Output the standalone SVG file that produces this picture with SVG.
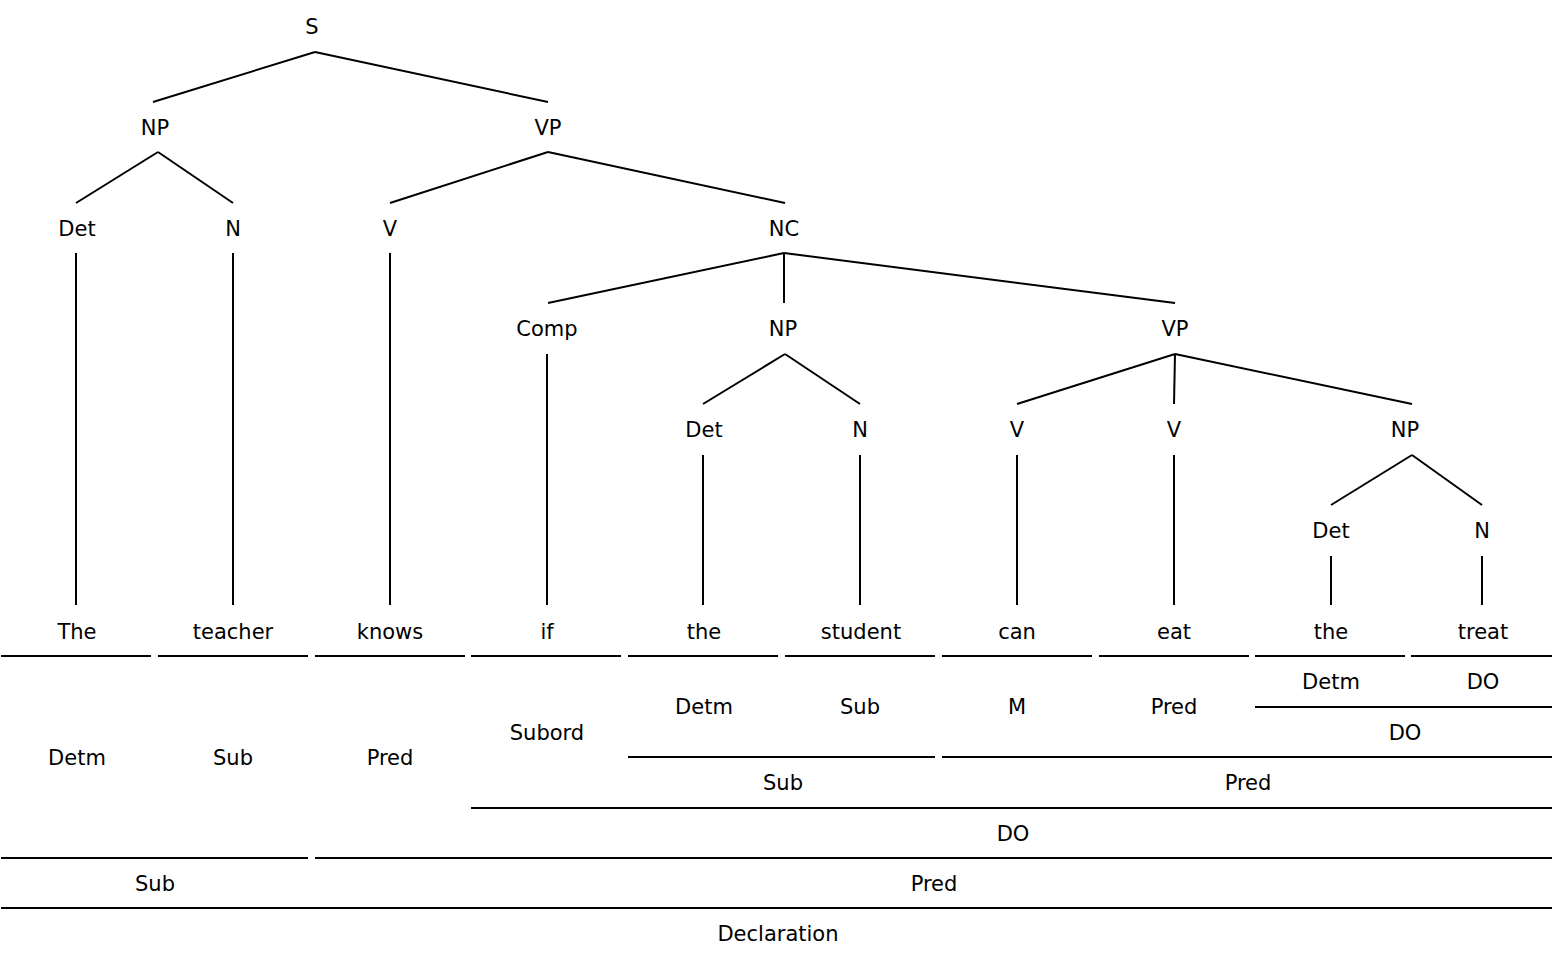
<svg xmlns="http://www.w3.org/2000/svg" width="1554" height="960" viewBox="0 0 1554 960">
<style>
text{font-family:"DejaVu Sans",Verdana,sans-serif;font-size:21px;text-anchor:middle;fill:#000}
line{stroke:#000;stroke-width:2}
</style>
<rect width="1554" height="960" fill="#fff"/>
<g id="connectors">
<line x1="315" y1="52" x2="153" y2="102"/><line x1="315" y1="52" x2="548" y2="102"/>
<line x1="158" y1="152" x2="76" y2="203"/><line x1="158" y1="152" x2="233" y2="203"/>
<line x1="548" y1="152" x2="390" y2="203"/><line x1="548" y1="152" x2="785" y2="203"/>
<line x1="76" y1="253" x2="76" y2="605"/><line x1="233" y1="253" x2="233" y2="605"/><line x1="390" y1="253" x2="390" y2="605"/>
<line x1="784" y1="253" x2="548" y2="303"/><line x1="784" y1="253" x2="784" y2="303"/><line x1="784" y1="253" x2="1175" y2="303"/>
<line x1="547" y1="354" x2="547" y2="605"/>
<line x1="785" y1="354" x2="703" y2="404"/><line x1="785" y1="354" x2="860" y2="404"/>
<line x1="1175" y1="354" x2="1017" y2="404"/><line x1="1175" y1="354" x2="1174" y2="404"/><line x1="1175" y1="354" x2="1412" y2="404"/>
<line x1="703" y1="455" x2="703" y2="605"/><line x1="860" y1="455" x2="860" y2="605"/><line x1="1017" y1="455" x2="1017" y2="605"/><line x1="1174" y1="455" x2="1174" y2="605"/>
<line x1="1412" y1="455" x2="1331" y2="505"/><line x1="1412" y1="455" x2="1482" y2="505"/>
<line x1="1331" y1="556" x2="1331" y2="605"/><line x1="1482" y1="556" x2="1482" y2="605"/>
</g>
<g id="tree">
<text x="312" y="34">S</text>
<text x="155" y="135">NP</text><text x="548" y="135">VP</text>
<text x="77" y="236">Det</text><text x="233" y="236">N</text><text x="390" y="236">V</text><text x="784" y="236">NC</text>
<text x="547" y="336">Comp</text><text x="783" y="336">NP</text><text x="1175" y="336">VP</text>
<text x="704" y="437">Det</text><text x="860" y="437">N</text><text x="1017" y="437">V</text><text x="1174" y="437">V</text><text x="1405" y="437">NP</text>
<text x="1331" y="538">Det</text><text x="1482" y="538">N</text>
</g>
<g id="words">
<text x="77" y="639">The</text><text x="233" y="639">teacher</text><text x="390" y="639">knows</text><text x="547" y="639">if</text><text x="704" y="639">the</text><text x="861" y="639">student</text><text x="1017" y="639">can</text><text x="1174" y="639">eat</text><text x="1331" y="639">the</text><text x="1483" y="639">treat</text>
</g>
<g id="functions">
<line x1="1" y1="656" x2="151" y2="656"/><line x1="158" y1="656" x2="308" y2="656"/><line x1="315" y1="656" x2="465" y2="656"/><line x1="471" y1="656" x2="621" y2="656"/><line x1="628" y1="656" x2="778" y2="656"/><line x1="785" y1="656" x2="935" y2="656"/><line x1="942" y1="656" x2="1092" y2="656"/><line x1="1099" y1="656" x2="1249" y2="656"/><line x1="1255" y1="656" x2="1405" y2="656"/><line x1="1411" y1="656" x2="1552" y2="656"/>
<text x="1331" y="689">Detm</text><text x="1483" y="689">DO</text>
<line x1="1255" y1="707" x2="1552" y2="707"/>
<text x="704" y="714">Detm</text><text x="860" y="714">Sub</text><text x="1017" y="714">M</text><text x="1174" y="714">Pred</text>
<text x="547" y="740">Subord</text><text x="1405" y="740">DO</text>
<text x="77" y="765">Detm</text><text x="233" y="765">Sub</text><text x="390" y="765">Pred</text>
<line x1="628" y1="757" x2="935" y2="757"/><line x1="942" y1="757" x2="1552" y2="757"/>
<text x="783" y="790">Sub</text><text x="1248" y="790">Pred</text>
<line x1="471" y1="808" x2="1552" y2="808"/>
<text x="1013" y="841">DO</text>
<line x1="1" y1="858" x2="308" y2="858"/><line x1="315" y1="858" x2="1552" y2="858"/>
<text x="155" y="891">Sub</text><text x="934" y="891">Pred</text>
<line x1="1" y1="908" x2="1552" y2="908"/>
<text x="778" y="941">Declaration</text>
</g>
</svg>
